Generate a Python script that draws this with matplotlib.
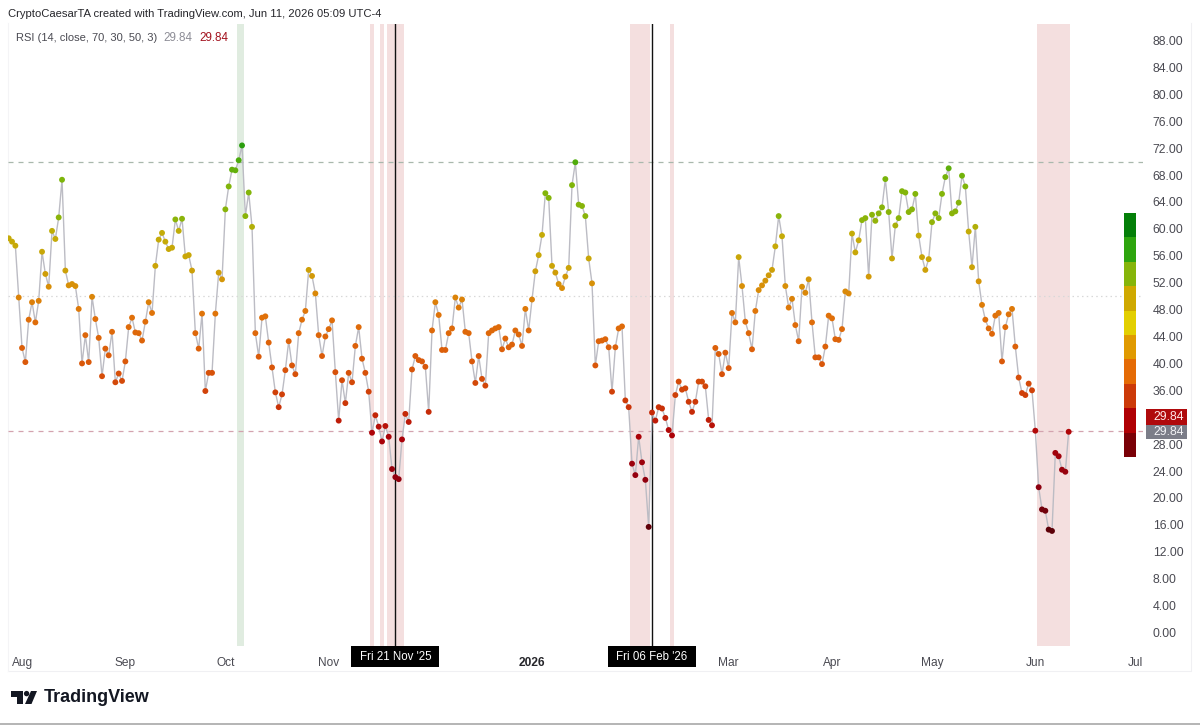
"""RSI chart with gradient dots, redrawn from a TradingView screenshot."""
from __future__ import annotations

import matplotlib
matplotlib.use("Agg")
import matplotlib.dates as mdates
import matplotlib.pyplot as plt
import numpy as np
import pandas as pd
from matplotlib.colors import LinearSegmentedColormap, ListedColormap
from matplotlib.patches import Circle, Polygon, Rectangle

plt.rcParams["font.family"] = ["Liberation Sans", "DejaVu Sans"]

# Daily RSI readings (last bar is 11 Jun 2026)
rsi_aug_oct = [
    58.6, 58.1, 57.5, 49.8, 42.3, 40.2, 46.5, 49.1, 46.1, 49.3, 56.6, 53.3, 51.4, 59.7, 58.5,
    61.7, 67.3, 53.8, 51.6, 51.8, 51.5, 48.1, 40.0, 44.2, 40.2, 49.9, 46.6, 43.8, 38.1, 42.2,
    41.2, 44.7, 37.2, 38.5, 37.4, 40.3, 45.4, 46.8, 44.6, 44.5, 43.4, 46.2, 49.1, 47.5, 54.5,
    58.4, 59.4, 58.1, 57.0, 57.2, 61.4, 59.7, 61.5, 55.9, 56.1, 53.8, 44.5, 42.2, 47.4, 35.9,
    38.6, 38.6, 47.4, 53.5, 52.5, 62.9, 66.3, 68.8, 68.7, 70.2, 72.4, 61.9, 65.4, 60.3, 44.5,
    41.0, 46.8, 47.0, 43.1, 39.4, 35.7, 33.5, 35.4, 39.0, 43.3, 39.7, 38.4, 44.5,
]
rsi_oct_jan = [
    46.5, 47.8, 53.9, 53.0, 50.4, 44.2, 41.1, 44.0, 45.1, 46.4, 38.7, 31.5, 37.5, 34.1, 38.6,
    37.2, 42.6, 45.4, 40.7, 38.6, 35.8, 29.7, 32.3, 30.6, 28.4, 30.7, 29.1, 24.3, 23.1, 22.8,
    28.7, 32.5, 31.3, 39.1, 41.1, 40.5, 40.3, 39.5, 32.8, 44.9, 49.1, 47.2, 42.0, 42.0, 44.5,
    45.2, 49.8, 48.3, 49.5, 44.7, 44.5, 40.3, 37.1, 41.1, 37.7, 36.7, 44.5, 44.9, 45.2, 45.4,
    42.1, 43.7, 42.4, 42.8, 44.9, 44.3, 42.6, 48.1, 44.9, 49.5, 53.7, 56.1,
]
rsi_jan_mar = [
    59.1, 65.3, 64.6, 54.5, 53.5, 51.8, 51.2, 52.9, 54.2, 66.5, 69.9, 63.6, 63.4, 61.9, 55.6,
    51.9, 39.7, 43.3, 43.4, 43.6, 42.4, 35.8, 42.4, 45.2, 45.5, 34.5, 33.5, 25.1, 23.4, 29.1,
    25.3, 22.7, 15.7, 32.7, 31.5, 33.5, 33.3, 31.9, 30.1, 29.3, 35.3, 37.3, 36.1, 36.3, 34.3,
    32.8, 34.3, 37.3, 37.3, 36.6, 31.6, 30.8, 42.3, 41.4, 38.4, 41.6, 39.3, 47.5, 46.1, 55.8,
    51.5, 46.2, 44.5, 42.1, 47.8, 50.9, 51.6, 52.3, 53.1, 53.9, 57.4, 61.9, 58.9, 51.5, 48.3,
    49.6, 45.7, 43.3,
]
rsi_mar_jun = [
    51.4, 50.5, 52.5, 46.1, 40.9, 40.9, 39.9, 42.5, 47.1, 46.7, 43.6, 43.5, 45.1, 50.7, 50.4,
    59.3, 56.5, 58.3, 61.3, 61.6, 52.9, 62.1, 61.2, 62.3, 63.2, 67.4, 62.5, 55.6, 60.5, 61.6,
    65.6, 65.4, 62.5, 62.9, 65.2, 59.0, 55.8, 53.9, 55.5, 61.0, 62.3, 61.6, 65.2, 67.7, 69.0,
    62.3, 62.6, 63.9, 67.9, 66.3, 59.6, 54.3, 60.3, 52.2, 48.7, 46.5, 45.2, 44.4, 47.1, 47.5,
    40.3, 45.4, 47.3, 48.1, 42.5, 37.9, 35.6, 35.3, 37.0, 36.0, 30.0, 21.6, 18.3, 18.1, 15.3,
    15.1, 26.7, 26.2, 24.2, 23.9, 29.84,
]

month_dates = ["2025-08-01", "2025-09-01", "2025-10-01", "2025-11-01", "2026-01-01",
               "2026-03-01", "2026-04-01", "2026-05-01", "2026-06-01", "2026-07-01"]
month_labels = ["Aug", "Sep", "Oct", "Nov", "2026", "Mar", "Apr", "May", "Jun", "Jul"]
cursor_dates = ["2025-11-21", "2026-02-06"]
cursor_labels = ["Fri 21 Nov '25", "Fri 06 Feb '26"]
# 32.00 is hidden behind the value tags in the original
y_ticks = [0, 4, 8, 12, 16, 20, 24, 28, 36, 40, 44, 48, 52, 56, 60, 64, 68, 72, 76, 80, 84, 88]
upper, lower, middle = 70, 30, 50

legend_colors = ["#7a0006", "#b00004", "#cc3a08", "#e56b05", "#e09a00",
                 "#e3cf00", "#cfa900", "#86b50a", "#2ea50e", "#047f08"]

FIG_W, FIG_H = 1200, 725
TEXT = "#4a4a52"


def px_box(left, top, right, bottom):
    """Figure fraction rectangle from pixel edges."""
    return [left / FIG_W, 1 - bottom / FIG_H, (right - left) / FIG_W, (bottom - top) / FIG_H]


def shade_runs(ax, dates, mask, color):
    """Shade each run of consecutive flagged bars, half a bar either side."""
    half = pd.Timedelta(hours=12)
    idx = np.flatnonzero(mask)
    if not len(idx):
        return
    for run in np.split(idx, np.flatnonzero(np.diff(idx) > 1) + 1):
        ax.axvspan(dates[run[0]] - half, dates[run[-1]] + half, color=color, lw=0, zorder=1)


def draw_logo(deco):
    # TradingView mark, pixel coordinates
    deco.add_patch(Polygon([(10.5, 691), (23, 691), (23, 704), (16.5, 704), (16.5, 696.5), (10.5, 696.5)],
                           color="#131722", lw=0))
    deco.add_patch(Circle((26.6, 693.6), 2.7, color="#131722", lw=0))
    deco.add_patch(Polygon([(31, 691), (37, 691), (31.5, 704), (25, 704)], color="#131722", lw=0))
    deco.text(43.5, 698, "TradingView", fontsize=13, fontweight="bold", color="#131722",
              va="center", ha="left")


def main():
    rsi = np.array(rsi_aug_oct + rsi_oct_jan + rsi_jan_mar + rsi_mar_jun)
    dates = pd.date_range(end="2026-06-11", periods=len(rsi), freq="D")

    fig = plt.figure(figsize=(FIG_W / 100, FIG_H / 100), dpi=100, facecolor="white")

    # Full-figure layer in pixel coordinates for the frame and header
    deco = fig.add_axes([0, 0, 1, 1], zorder=0)
    deco.set_xlim(0, FIG_W)
    deco.set_ylim(FIG_H, 0)
    deco.axis("off")
    deco.plot([8, 1191, 1191], [671, 671, 23], color="#f0f0f3", lw=0.8)
    deco.plot([8, 8], [23, 671], color="#f4f4f6", lw=0.8)
    deco.plot([0, FIG_W], [724, 724], color="#a8a8a8", lw=1.2)
    deco.text(8.5, 14, "CryptoCaesarTA created with TradingView.com, Jun 11, 2026 05:09 UTC-4",
              fontsize=8.15, color="#26262b", va="center")
    deco.text(16, 37.5, "RSI (14, close, 70, 30, 50, 3)", fontsize=8.0, color=TEXT, va="center")
    deco.text(163, 37.5, "29.84", fontsize=8.4, color="#8d8d96", va="center")
    deco.text(199, 37.5, "29.84", fontsize=8.4, color="#a3121e", va="center")
    draw_logo(deco)

    ax = fig.add_axes(px_box(8, 24, 1143, 646), zorder=1)
    ax.patch.set_alpha(0)
    for spine in ax.spines.values():
        spine.set_visible(False)

    shade_runs(ax, dates, rsi < lower, "#f4dfdf")
    shade_runs(ax, dates, rsi > upper, "#e0ece0")

    ax.axhline(upper, color="#a9b8ad", lw=0.9, dashes=(4, 4), zorder=2)
    ax.axhline(middle, color="#d8d8d8", lw=0.9, dashes=(1.2, 2.6), zorder=2)
    ax.axhline(lower, color="#d3a3af", lw=0.9, dashes=(4, 4), zorder=2)

    for when in cursor_dates:
        ax.axvline(pd.Timestamp(when), color="#111111", lw=1.0, zorder=3)

    # Dot colour runs red to green with the RSI value
    dot_cmap = LinearSegmentedColormap.from_list("rsi_dots", [
        (0.0, "#5c0008"), (0.12, "#8f000f"), (0.25, "#ad0208"), (0.28, "#bd1a08"),
        (0.32, "#cb3508"), (0.42, "#d9560a"), (0.55, "#e0700a"), (0.63, "#d88f08"),
        (0.68, "#cba408"), (0.77, "#c4ac08"), (0.80, "#8cb40a"), (0.90, "#7fb50a"),
        (0.95, "#4fac0c"), (1.0, "#249b10"),
    ])
    ax.plot(dates, rsi, color="#bcbcc4", lw=1.0, zorder=4)
    ax.scatter(dates, rsi, c=rsi, cmap=dot_cmap, vmin=15, vmax=73, s=18, lw=0, zorder=5)

    # px_per_day is 3.333: first bar 0.7 px in, last bar 74 px from the right edge
    ax.set_xlim(mdates.date2num(dates[0]) - 0.21, mdates.date2num(dates[-1]) + 22.3)
    ax.set_ylim(-2.0, 90.45)

    ax.yaxis.tick_right()
    ax.set_yticks(y_ticks)
    ax.set_yticklabels([f"{v:.2f}" for v in y_ticks])
    ax.tick_params(axis="y", length=0, pad=7, labelsize=8.8, labelcolor=TEXT)
    ax.set_xticks([pd.Timestamp(d) for d in month_dates])
    ax.set_xticklabels(month_labels)
    ax.tick_params(axis="x", length=0, pad=8, labelsize=8.6, labelcolor=TEXT)
    for label in ax.get_xticklabels():
        if label.get_text() == "2026":
            label.set_fontweight("bold")
            label.set_color("#26262b")

    # Black date boxes under the crosshair
    for when, text in zip(cursor_dates, cursor_labels):
        num = mdates.date2num(pd.Timestamp(when))
        box_x = deco.transData.inverted().transform(ax.transData.transform((num, 0)))[0]
        fig.add_artist(Rectangle((box_x - 44, 646), 88, 21, color="black", lw=0, zorder=8,
                                 transform=deco.transData))
        fig.text(box_x / FIG_W, 1 - 657.5 / FIG_H, text, fontsize=8.3, color="white",
                 ha="center", va="center", zorder=9)

    # Value tags at the last bar
    for top, bottom, face, tag_color in [(409.3, 425.3, "#b00a0c", "#ffe9e9"),
                                         (425.3, 439.3, "#7b7d88", "#f2f2f5")]:
        fig.add_artist(Rectangle((1145.7, top), 41.6, bottom - top, color=face, lw=0, zorder=8,
                                 transform=deco.transData))
        fig.text(1153 / FIG_W, 1 - (top + bottom) / 2 / FIG_H, "29.84", fontsize=8.8,
                 color=tag_color, va="center", ha="left", zorder=9)

    # Stepped colour legend
    cbar = fig.add_axes(px_box(1124.3, 213.3, 1136.3, 457), zorder=3)
    cbar.imshow(np.arange(len(legend_colors))[::-1].reshape(-1, 1), aspect="auto",
                cmap=ListedColormap(legend_colors), interpolation="nearest")
    cbar.axis("off")

    fig.savefig("out.png", dpi=100)
    plt.close(fig)


if __name__ == "__main__":
    main()
